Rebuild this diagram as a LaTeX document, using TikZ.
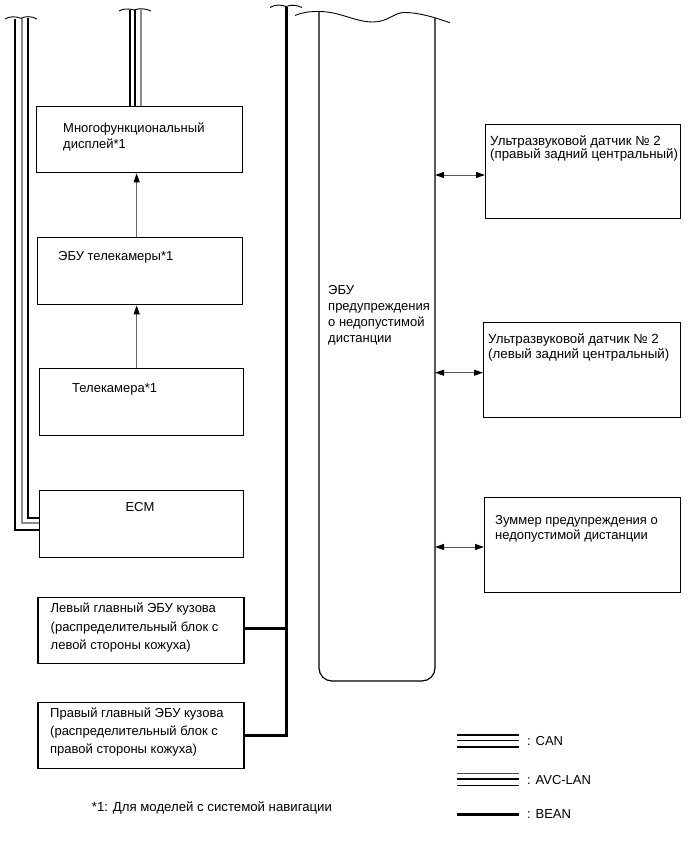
\documentclass[tikz,border=0pt]{standalone}
\usepackage{fontspec}
\setmainfont{Liberation Sans}
\usetikzlibrary{arrows.meta,calc}
\begin{document}
\begin{tikzpicture}[x=1pt,y=-1pt,
  box/.style={draw=black,line width=1.3pt,inner sep=0pt,anchor=north west},
  lbl/.style={anchor=base west,inner sep=0pt,align=left},
  thickbus/.style={line width=2.3pt,black},
  thinbus/.style={line width=1.1pt,black},
  graybus/.style={line width=1.6pt,gray!90},
  bean/.style={line width=3pt,black},
  wavecap/.style={line width=0.9pt,black},
  uparr/.style={line width=1pt,gray!80!black,-{Triangle[length=9pt,width=6pt,black]}},
  biarr/.style={line width=1pt,gray!70!black,{Triangle[length=9pt,width=6pt,black]}-{Triangle[length=9pt,width=6pt,black]}}]
\useasboundingbox (0,0) rectangle (690,856);

% boxes
\node[box,minimum width=206pt,minimum height=66pt] (disp) at (36,106) {};
\node[box,minimum width=205pt,minimum height=67pt] (camecu) at (37,237) {};
\node[box,minimum width=204pt,minimum height=67pt] (cam) at (39,368) {};
\node[box,minimum width=204pt,minimum height=67pt] (ecm) at (39,490) {};
\node[box,minimum width=206pt,minimum height=66pt] (bodyL) at (37.3,597) {};
\node[box,minimum width=206pt,minimum height=66pt] (bodyR) at (37.3,701.7) {};
\node[box,minimum width=195pt,minimum height=94pt] (sA) at (485,124) {};
\node[box,minimum width=197pt,minimum height=95pt] (sB) at (483,322) {};
\node[box,minimum width=196pt,minimum height=95pt] (sC) at (484,497) {};

% texts (base = baseline of the last line)
\node[lbl,font=\fontsize{13}{15.5}\selectfont] (tdisp) at (63,148) {Многофункциональный\\дисплей*1};
\node[lbl,font=\fontsize{13}{15}\selectfont] (tcamecu) at (58,260) {ЭБУ телекамеры*1};
\node[lbl,font=\fontsize{13}{15}\selectfont] (tcam) at (72,392.5) {Телекамера*1};
\node[anchor=base,inner sep=0pt,font=\fontsize{13}{15}\selectfont] (tecm) at (140,511) {ECM};
\node[lbl,font=\fontsize{13}{18.3}\selectfont] (tbodyL) at (50.5,649.5) {Левый главный ЭБУ кузова\\(распределительный блок с\\левой стороны кожуха)};
\node[lbl,font=\fontsize{13}{17.9}\selectfont] (tbodyR) at (50,753.5) {Правый главный ЭБУ кузова\\(распределительный блок с\\правой стороны кожуха)};
\node[lbl,font=\fontsize{13}{16}\selectfont] (tecu) at (328,342.5) {ЭБУ\\предупреждения\\о недопустимой\\дистанции};
\node[lbl,font=\fontsize{13.3}{13.6}\selectfont] (tsA) at (490,158.8) {Ультразвуковой датчик № 2\\(правый задний центральный)};
\node[lbl,font=\fontsize{13.3}{15}\selectfont] (tsB) at (488,358.5) {Ультразвуковой датчик № 2\\(левый задний центральный)};
\node[lbl,font=\fontsize{13}{15}\selectfont] (tsC) at (495,539.5) {Зуммер предупреждения о\\недопустимой дистанции};
\node[lbl,font=\fontsize{13.2}{15}\selectfont] (tnote) at (91.7,811) {*1: Для моделей с системой навигации};

% tall ECU box with wavy top
\draw[line width=1.2pt,rounded corners=13pt] (319,11.5) -- (319,681) -- (435,681) -- (435,18);
\draw[wavecap] (295,15.5) .. controls (303,12) and (310,11.5) .. (319,11.5)
  .. controls (340,11.5) and (355,22) .. (373,22)
  .. controls (388,22) and (394,12.5) .. (404,12.5)
  .. controls (420,12.5) and (436,18) .. (450,22.7);

% CAN bus (left) into ECM
\draw[thickbus] (15,19) |- ($(ecm.north west)+(0,40)$);
\draw[graybus] (21.7,18.5) |- ($(ecm.north west)+(0,33)$);
\draw[thickbus] (28,18) |- ($(ecm.north west)+(0,28)$);
\draw[wavecap] (5,19) .. controls (9,16.2) and (16,16.2) .. (21,18.3) .. controls (25,16) and (32,16) .. (37,19);

% AVC-LAN bus into display
\draw[thinbus] (130,10.5) -- ($(disp.north west)+(94,0)$);
\draw[thickbus] (135.2,10) -- ($(disp.north west)+(99.2,0)$);
\draw[graybus] (140.7,10.5) -- ($(disp.north west)+(104.7,0)$);
\draw[wavecap] (119,11) .. controls (123,8.5) and (129,8.5) .. (134,10) .. controls (139,8) and (146,8.5) .. (151,11);

% BEAN bus
\draw[bean] (286.7,7) |- ($(bodyR.north east)+(0,33.3)$);
\draw[bean] ($(bodyL.north east)+(0,31.3)$) -- ++(43.4,0);
\draw[wavecap] (270,7.5) .. controls (275,4.5) and (281,4.5) .. (286,6.5) .. controls (291,4.5) and (297,5) .. (302,7.5);

% arrows between boxes
\draw[uparr] ($(camecu.north)+(-3.5,0)$) -- ($(disp.south)+(-3,0)$);
\draw[uparr] ($(cam.north)+(-5,0)$) -- ($(camecu.south)+(-3.5,0)$);

\coordinate (ecuA) at (435,175);
\coordinate (ecuB) at (435,372.7);
\coordinate (ecuC) at (435,547);
\draw[biarr] (ecuA) -- (sA.west |- ecuA);
\draw[biarr] (ecuB) -- (sB.west |- ecuB);
\draw[biarr] (ecuC) -- (sC.west |- ecuC);

% legend
\draw[line width=2.3pt] (457,735) -- (519,735);
\draw[line width=1pt] (457,740.8) -- (519,740.8);
\draw[line width=2.3pt] (457,746.7) -- (519,746.7);
\node[lbl,font=\fontsize{13}{15}\selectfont] (lcan) at (527,745.5) {: CAN};
\draw[line width=1pt,gray!60!black] (457,773.3) -- (519,773.3);
\draw[line width=2.3pt] (457,779.3) -- (519,779.3);
\draw[line width=1pt] (457,785) -- (519,785);
\node[lbl,font=\fontsize{13}{15}\selectfont] (lavc) at (527,784) {: AVC-LAN};
\draw[line width=3pt] (457,814.3) -- (519,814.3);
\node[lbl,font=\fontsize{13}{15}\selectfont] (lbean) at (527,818.5) {: BEAN};
\end{tikzpicture}
\end{document}
